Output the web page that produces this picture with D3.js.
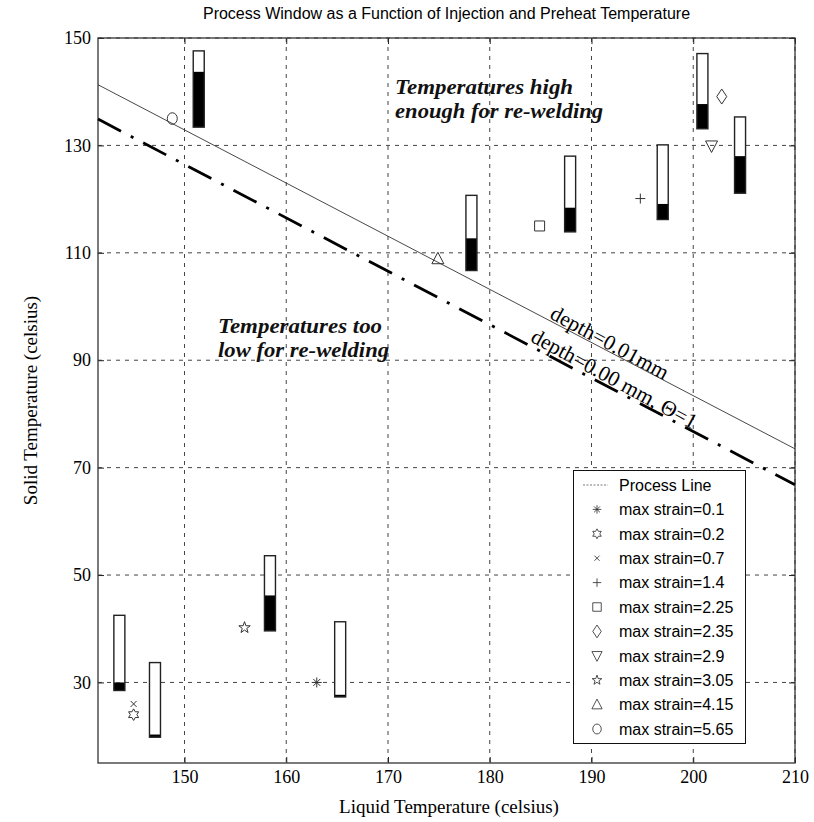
<!DOCTYPE html>
<html><head><meta charset="utf-8">
<script src="https://cdn.jsdelivr.net/npm/d3@7"></script>
<style>body{margin:0;background:#fff}</style>
</head><body>
<svg id="chart" width="814" height="822"></svg>
<script>
// ---------------- data ----------------
const titleText = "Process Window as a Function of Injection and Preheat Temperature";
const xLabel = "Liquid Temperature (celsius)";
const yLabel = "Solid Temperature (celsius)";
const xDomain = [141.5, 210];
const yDomain = [15, 150];
const xTicks = [150, 160, 170, 180, 190, 200, 210];
const yTicks = [30, 50, 70, 90, 110, 130, 150];

// process-window bars: x position, top, start of black part, bottom
const barX      = [143.6, 147.1, 151.4, 158.4, 165.3, 178.2, 187.9, 197.0, 200.9, 204.6];
const barTop    = [42.5, 33.7, 147.6, 53.6, 41.3, 120.7, 128.0, 130.1, 147.1, 135.3];
const barMid    = [30.0, 20.3, 143.7, 46.2, 27.7, 112.7, 118.4, 119.1, 137.7, 128.0];
const barBottom = [28.5, 19.8, 133.4, 39.6, 27.3, 106.7, 113.9, 116.2, 133.1, 121.1];

// strain markers
const strainLabels  = ["max strain=0.1", "max strain=0.2", "max strain=0.7", "max strain=1.4", "max strain=2.25",
                       "max strain=2.35", "max strain=2.9", "max strain=3.05", "max strain=4.15", "max strain=5.65"];
const strainSymbols = ["asterisk", "hexagram", "times", "plus", "square", "diamond", "triangleDown", "pentagram", "triangleUp", "circle"];
const strainX = [163.0, 145.0, 145.0, 194.8, 184.9, 202.8, 201.8, 155.9, 174.9, 148.8];
const strainY = [30.0, 24.0, 26.0, 120.1, 115.0, 139.1, 129.9, 40.2, 108.9, 135.0];

// lines
const processLineX = [141.5, 210];
const processLineY = [141.3, 73.5];
const zeroDepthX = [141.5, 210];
const zeroDepthY = [134.9, 66.8];

const legendTitle = "Process Line";
const annotHigh = ["Temperatures high", "enough for re-welding"];
const annotHighWidth = [178, 208];
const annotLow = ["Temperatures too", "low for re-welding"];
const annotLowWidth = [164, 171];
const depthLabel1 = "depth=0.01mm";
const depthLabel2 = "depth=0.00 mm, \u0398=1";
const depthPos1 = [185.8, 97.9];
const depthPos2 = [183.9, 93.6];
const annotHighPos = [170.7, 139.5];
const annotLowPos = [153.3, 95.0];

// ---------------- drawing ----------------
const svg = d3.select("#chart");
const L = 98, R = 795, T = 38, B = 763;
const x = d3.scaleLinear().domain(xDomain).range([L, R]);
const y = d3.scaleLinear().domain(yDomain).range([B, T]);
const serif = "'Liberation Serif','Times New Roman',serif";
const sans = "'Liberation Sans',Arial,Helvetica,sans-serif";
const ink = "#222";

svg.append("rect").attr("width", 814).attr("height", 822).attr("fill", "#fff");

// grid
const grid = svg.append("g").attr("stroke", "#444").attr("stroke-width", 1).attr("stroke-dasharray", "4,5").attr("fill", "none");
grid.selectAll("line.v").data(xTicks).join("line").attr("class", "v")
  .attr("x1", d => x(d)).attr("x2", d => x(d)).attr("y1", T).attr("y2", B);
grid.selectAll("line.h").data(yTicks).join("line").attr("class", "h")
  .attr("y1", d => y(d)).attr("y2", d => y(d)).attr("x1", L).attr("x2", R);

// axes
function styleAxis(g) {
  g.select(".domain").remove();
  g.selectAll(".tick line").attr("stroke", ink).attr("stroke-width", 1);
  g.selectAll(".tick text").attr("font-family", serif).attr("font-size", 18).attr("fill", "#000");
}
svg.append("g").attr("transform", `translate(0,${B})`)
  .call(d3.axisBottom(x).tickValues(xTicks).tickSize(-6).tickPadding(7).tickSizeOuter(0)).call(styleAxis);
svg.append("g").attr("transform", `translate(${L},0)`)
  .call(d3.axisLeft(y).tickValues(yTicks).tickSize(-6).tickPadding(7).tickSizeOuter(0)).call(styleAxis);
svg.append("g").attr("transform", `translate(0,${T})`)
  .call(d3.axisTop(x).tickValues(xTicks).tickSize(-6).tickFormat("").tickSizeOuter(0)).call(styleAxis);
svg.append("g").attr("transform", `translate(${R},0)`)
  .call(d3.axisRight(y).tickValues(yTicks).tickSize(-6).tickFormat("").tickSizeOuter(0)).call(styleAxis);

// border
svg.append("rect").attr("x", L).attr("y", T).attr("width", R - L).attr("height", B - T)
  .attr("fill", "none").attr("stroke", "#333").attr("stroke-width", 1.3);

// lines
const line = d3.line().x(d => x(d[0])).y(d => y(d[1]));
svg.append("path").datum(processLineX.map((v, i) => [v, processLineY[i]]))
  .attr("d", line).attr("fill", "none").attr("stroke", "#333").attr("stroke-width", 0.9);
svg.append("path").datum(zeroDepthX.map((v, i) => [v, zeroDepthY[i]]))
  .attr("d", line).attr("fill", "none").attr("stroke", "#000").attr("stroke-width", 2.8)
  .attr("stroke-dasharray", "26,11,3,11");

// bars
const bw = 11;
const bars = svg.append("g");
barX.forEach((bx, i) => {
  const g = bars.append("g");
  g.append("rect").attr("x", x(bx) - bw / 2).attr("width", bw)
    .attr("y", y(barTop[i])).attr("height", y(barMid[i]) - y(barTop[i])).attr("fill", "#fff");
  g.append("rect").attr("x", x(bx) - bw / 2).attr("width", bw)
    .attr("y", y(barMid[i])).attr("height", y(barBottom[i]) - y(barMid[i])).attr("fill", "#000");
  g.append("rect").attr("x", x(bx) - bw / 2).attr("width", bw)
    .attr("y", y(barTop[i])).attr("height", y(barBottom[i]) - y(barTop[i]))
    .attr("fill", "none").attr("stroke", "#222").attr("stroke-width", 1.4);
});

// symbol paths
function star(n, R1, r1) {
  let p = [];
  for (let k = 0; k < 2 * n; k++) {
    const a = -Math.PI / 2 + k * Math.PI / n;
    const rr = k % 2 === 0 ? R1 : r1;
    p.push([rr * Math.cos(a), rr * Math.sin(a)]);
  }
  return "M" + p.map(q => q[0].toFixed(2) + "," + q[1].toFixed(2)).join("L") + "Z";
}
function symbolPath(t) {
  const s = 5;
  switch (t) {
    case "circle": return `M${s},0A${s},${s + 0.8} 0 1,1 ${-s},0A${s},${s + 0.8} 0 1,1 ${s},0Z`;
    case "plus": return `M${-s},0H${s}M0,${-s}V${s}`;
    case "times": return `M-3,-3L3,3M-3,3L3,-3`;
    case "asterisk": return `M${-s},0H${s}M0,${-s}V${s}M-3.5,-3.5L3.5,3.5M-3.5,3.5L3.5,-3.5`;
    case "square": return `M-5,-5H5V5H-5Z`;
    case "diamond": return `M0,-7.5L5,0L0,7.5L-5,0Z`;
    case "triangleUp": return `M0,-6.5L6,5L-6,5Z`;
    case "triangleDown": return `M0,6.5L6,-5L-6,-5Z`;
    case "pentagram": return star(5, 6, 2.4);
    case "hexagram": return star(6, 5.8, 3.3);
  }
}
const marks = svg.append("g");
strainX.forEach((sx, i) => {
  marks.append("path").attr("d", symbolPath(strainSymbols[i]))
    .attr("transform", `translate(${x(sx)},${y(strainY[i])})`)
    .attr("fill", "none").attr("stroke", "#333").attr("stroke-width", 1);
});

// annotations (one text per line)
function annot(lines, widths, pos) {
  lines.forEach((t, i) => {
    svg.append("text").attr("x", x(pos[0])).attr("y", y(pos[1]) + i * 23.3)
      .attr("font-family", serif).attr("font-size", 21)
      .attr("font-weight", "bold").attr("font-style", "italic").attr("fill", "#111")
      .attr("textLength", widths[i]).attr("lengthAdjust", "spacingAndGlyphs").text(t);
  });
}
annot(annotHigh, annotHighWidth, annotHighPos);
annot(annotLow, annotLowWidth, annotLowPos);

svg.append("text").attr("font-family", serif).attr("font-size", 21.5).attr("fill", "#000")
  .attr("transform", `translate(${x(depthPos1[0])},${y(depthPos1[1])}) rotate(28.5)`).text(depthLabel1);
svg.append("text").attr("font-family", serif).attr("font-size", 21.5).attr("fill", "#000")
  .attr("transform", `translate(${x(depthPos2[0])},${y(depthPos2[1])}) rotate(28.5)`).text(depthLabel2);

// legend
const lg = svg.append("g");
lg.append("rect").attr("x", 573.5).attr("y", 470.5).attr("width", 172).attr("height", 273)
  .attr("fill", "#fff").attr("stroke", "#111").attr("stroke-width", 1);
const rowY = i => 485 + i * 24.4;
lg.append("line").attr("x1", 583).attr("x2", 608).attr("y1", rowY(0)).attr("y2", rowY(0))
  .attr("stroke", "#555").attr("stroke-width", 0.8).attr("stroke-dasharray", "2,1.5");
lg.append("text").attr("x", 619).attr("y", rowY(0)).attr("dy", "0.36em")
  .attr("font-family", sans).attr("font-size", 16).text(legendTitle);
strainLabels.forEach((t, i) => {
  lg.append("path").attr("d", symbolPath(strainSymbols[i]))
    .attr("transform", `translate(597,${rowY(i + 1)}) scale(0.85)`)
    .attr("fill", "none").attr("stroke", "#333").attr("stroke-width", 1);
  lg.append("text").attr("x", 619).attr("y", rowY(i + 1)).attr("dy", "0.36em")
    .attr("font-family", sans).attr("font-size", 16).text(t);
});

// titles
svg.append("text").attr("x", (L + R) / 2).attr("y", 19).attr("text-anchor", "middle")
  .attr("font-family", sans).attr("font-size", 16).text(titleText);
svg.append("text").attr("x", 449).attr("y", 813).attr("text-anchor", "middle")
  .attr("font-family", serif).attr("font-size", 19).text(xLabel);
svg.append("text").attr("transform", `translate(37,${(T + B) / 2}) rotate(-90)`).attr("text-anchor", "middle")
  .attr("font-family", serif).attr("font-size", 19).text(yLabel);
</script>
</body></html>
